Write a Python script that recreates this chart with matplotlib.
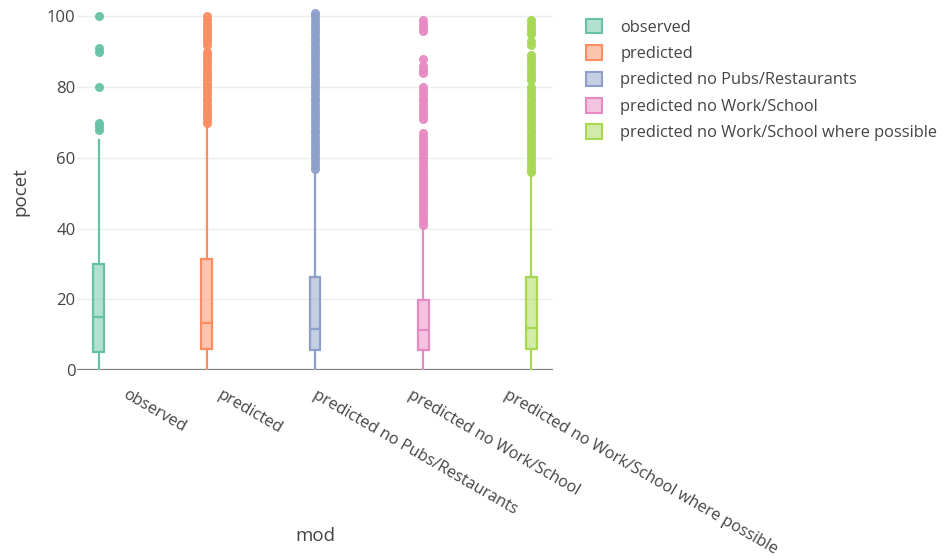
import matplotlib.pyplot as plt
from matplotlib.colors import to_rgba
from matplotlib.patches import Patch

# ================= data =================
categories = ["observed", "predicted", "predicted no Pubs/Restaurants",
              "predicted no Work/School", "predicted no Work/School where possible"]
colors = ["#66c2a5", "#fc8d62", "#8da0cb", "#e78ac3", "#a6d854"]

q1 = [5, 6, 5.7, 5.7, 6]
medians = [15, 13.4, 11.6, 11.3, 12]
q3 = [30, 31.4, 26.4, 19.8, 26.4]
whisker_low = [0, 0, 0, 0, 0]
whisker_high = [65, 69, 56, 40, 55]

outliers_observed = [68, 69, 70, 80, 90, 91, 100]
outliers_predicted = [70, 71, 72, 73, 74, 75, 76, 77, 78, 79, 80, 81, 82, 83, 84,
                      85, 86, 87, 88, 89, 90, 92, 93, 94, 95, 96, 97, 98, 99, 100]
outliers_pubs = [57, 58, 59, 60, 61, 62, 63, 64, 65, 66, 67, 68, 69, 70, 71, 72,
                 73, 74, 75, 76, 77, 78, 79, 80, 81, 82, 83, 84, 85, 86, 87, 88,
                 89, 90, 91, 92, 93, 94, 95, 96, 97, 98, 99, 100, 101]
outliers_work = [41, 42, 43, 44, 45, 46, 47, 48, 49, 50, 51, 52, 53, 54, 55, 56,
                 57, 58, 59, 60, 61, 62, 63, 64, 65, 66, 67, 71, 72, 73, 74, 75,
                 76, 77, 78, 79, 80, 84, 85, 86, 88, 96, 97, 98, 99]
outliers_work_possible = [56, 57, 58, 59, 60, 61, 62, 63, 64, 65, 66, 67, 68, 69,
                          70, 71, 72, 73, 74, 75, 76, 77, 78, 79, 80, 82, 83, 84,
                          85, 86, 87, 88, 89, 92, 93, 95, 96, 97, 98, 99]
outliers = [outliers_observed, outliers_predicted, outliers_pubs,
            outliers_work, outliers_work_possible]
y_ticks = [0, 20, 40, 60, 80, 100]
# ========================================

TEXT = "#444444"
plt.rcParams['font.family'] = ['Open Sans', 'DejaVu Sans']

fig = plt.figure(figsize=(9.44, 5.56), dpi=100)
ax = fig.add_axes([0.0816, 0.3345, 0.5042, 0.6549])

stats = []
for i in range(len(categories)):
    stats.append(dict(q1=q1[i], med=medians[i], q3=q3[i],
                      whislo=whisker_low[i], whishi=whisker_high[i],
                      fliers=outliers[i], label=categories[i]))

for i, st in enumerate(stats):
    c = colors[i]
    ax.bxp([st], positions=[i], widths=0.1, patch_artist=True,
           showcaps=False, showfliers=True,
           boxprops=dict(facecolor=to_rgba(c, 0.5), edgecolor=c, linewidth=1.6),
           medianprops=dict(color=c, linewidth=1.6),
           whiskerprops=dict(color=c, linewidth=1.6),
           flierprops=dict(marker='o', markerfacecolor=c, markeredgecolor=c,
                           markeredgewidth=0, markersize=6.5, alpha=0.95),
           zorder=3)

ax.set_xlim(-0.2, 4.2)
ax.set_ylim(0, 103)

# grid and zero line
ax.set_yticks(y_ticks)
ax.grid(axis='y', color='#eeeeee', linewidth=1, zorder=0)
ax.axhline(0, color='#7f7f7f', linewidth=1.6, zorder=2)
for s in ax.spines.values():
    s.set_visible(False)

# angled category labels
label_pos = [0.27 + 0.88 * i for i in range(len(categories))]
ax.set_xticks(label_pos)
ax.set_xticklabels(categories)
ax.tick_params(axis='x', length=0, pad=12, labelsize=11.6, labelcolor=TEXT)
ax.tick_params(axis='y', length=0, pad=1, labelsize=12, labelcolor=TEXT)
for lab in ax.get_xticklabels():
    lab.set_rotation(-30)
    lab.set_ha('left')
    lab.set_va('top')
    lab.set_rotation_mode('anchor')

ax.set_ylabel("pocet", fontsize=13.5, color=TEXT)
ax.yaxis.set_label_coords(-0.1, 0.49)
ax.set_xlabel("mod", fontsize=13.5, color=TEXT)
ax.xaxis.set_label_coords(0.5, -0.43)

handles = [Patch(facecolor=to_rgba(c, 0.5), edgecolor=c, linewidth=1.5) for c in colors]
leg = fig.legend(handles, categories, loc='upper left', bbox_to_anchor=(0.605, 0.993),
                 frameon=False, fontsize=11.8, handlelength=1.0, handleheight=1.0,
                 handletextpad=1.1, labelspacing=0.58)
for t in leg.get_texts():
    t.set_color(TEXT)

fig.savefig("out.png", dpi=100)
